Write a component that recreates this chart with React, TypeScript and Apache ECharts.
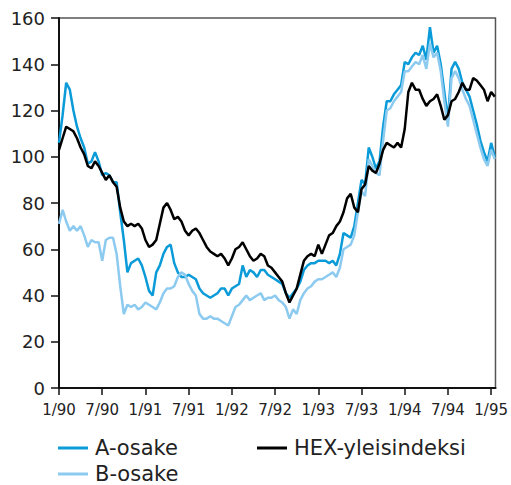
import React, { useEffect, useRef } from "react";
import * as echarts from "echarts";

// months since January 1990, half-month steps
const months: number[] = Array.from({ length: 122 }, (_, i) => i * 0.5);

const tickMonths = [0, 6, 12, 18, 24, 30, 36, 42, 48, 54, 60];
const tickLabels = ["1/90", "7/90", "1/91", "7/91", "1/92", "7/92", "1/93", "7/93", "1/94", "7/94", "1/95"];

const aOsake = [
  106, 118, 132, 129, 120, 113, 108, 104, 97, 98,
  102, 98, 92, 93, 92, 89, 89, 76, 64, 50,
  54, 55, 56, 53, 48, 42, 40, 50, 53, 58,
  61, 62, 54, 50, 48, 48, 49, 48, 47, 43,
  41, 40, 39, 40, 41, 43, 43, 40, 43, 44,
  45, 53, 48, 51, 50, 48, 51, 51, 49, 48,
  47, 46, 45, 41, 39, 41, 43, 46, 51, 53,
  54, 54, 55, 55, 55, 54, 55, 53, 58, 67,
  66, 65, 70, 80, 90, 88, 104, 100, 95, 98,
  113, 124, 124, 127, 129, 131, 141, 140, 143, 145,
  144, 148, 142, 156, 145, 148, 140, 128, 116, 138,
  141, 138, 132, 129, 126, 120, 114, 107, 102, 98,
  106, 100,
];

const bOsake = [
  71, 77, 72, 68, 70, 68, 70, 66, 61, 64,
  63, 63, 55, 64, 65, 65, 58, 44, 32, 36,
  35, 36, 34, 35, 37, 36, 35, 34, 37, 41,
  43, 43, 44, 48, 50, 49, 45, 42, 40, 32,
  30, 30, 31, 30, 30, 29, 28, 27, 31, 35,
  36, 38, 40, 38, 39, 40, 41, 38, 39, 39,
  40, 38, 37, 35, 30, 34, 32, 38, 41, 43,
  44, 46, 47, 47, 48, 49, 50, 48, 52, 60,
  61, 62, 66, 76, 85, 83, 99, 96, 93, 92,
  107, 120, 121, 124, 126, 128, 137, 137, 139, 141,
  140, 144, 138, 149, 143, 145, 137, 124, 113, 134,
  137, 134, 129, 125, 122, 116, 110, 104, 99, 96,
  103, 99,
];

const hex = [
  103, 108, 113, 112, 111, 108, 104, 101, 96, 95,
  98, 96, 93, 90, 92, 89, 87, 78, 72, 70,
  71, 70, 71, 69, 64, 61, 62, 64, 71, 78,
  80, 77, 73, 74, 72, 68, 66, 68, 69, 67,
  64, 61, 59, 58, 57, 58, 56, 53, 56, 60,
  61, 63, 60, 57, 55, 56, 58, 57, 53, 52,
  50, 48, 46, 41, 37, 40, 43, 49, 55, 57,
  58, 57, 62, 58, 62, 66, 67, 70, 72, 76,
  82, 84, 78, 76, 86, 88, 96, 94, 93, 97,
  103, 106, 105, 104, 106, 104, 112, 128, 132, 129,
  129, 125, 122, 124, 125, 127, 122, 116, 118, 124,
  125, 128, 132, 129, 129, 134, 133, 131, 129, 124,
  128, 126,
];

const FONT = "DejaVu Sans";

export default function App() {
  const ref = useRef<HTMLDivElement>(null);
  useEffect(() => {
    if (!ref.current) return;
    const chart = echarts.init(ref.current, null, { renderer: "svg" });
    const mk = (vals: number[]) => months.map((m, i) => [m, vals[i]]);
    const legendText = { fontFamily: FONT, fontSize: 21, lineHeight: 24, color: "#222", padding: [0, 0, 0, 2] };
    const legendBase = { icon: "rect", itemWidth: 30, itemHeight: 3, padding: 0, textStyle: legendText };
    chart.setOption({
      animation: false,
      backgroundColor: "#fff",
      grid: {
        left: 59,
        top: 18,
        right: 14,
        bottom: 97,
        show: true,
        borderColor: "#555",
        borderWidth: 1.5,
        backgroundColor: "transparent",
      },
      xAxis: {
        type: "value",
        min: 0,
        max: 60.6,
        interval: 6,
        splitLine: { show: false },
        axisLine: { show: true, onZero: false, lineStyle: { color: "#111", width: 2 } },
        axisTick: {
          show: true,
          length: 7,
          customValues: tickMonths,
          lineStyle: { color: "#111", width: 1.5 },
        },
        axisLabel: {
          customValues: tickMonths,
          margin: 14,
          color: "#222",
          fontFamily: FONT,
          fontSize: 15,
          formatter: (v: number) => {
            const idx = tickMonths.indexOf(Math.round(v));
            return idx >= 0 ? tickLabels[idx] : "";
          },
        },
      },
      yAxis: {
        type: "value",
        min: 0,
        max: 160,
        interval: 20,
        splitLine: { show: false },
        axisLine: { show: true, lineStyle: { color: "#111", width: 2 } },
        axisTick: { show: true, length: 8, lineStyle: { color: "#111", width: 1.5 } },
        axisLabel: { margin: 14, color: "#222", fontFamily: FONT, fontSize: 18 },
      },
      legend: [
        { ...legendBase, data: ["A-osake"], left: 58, top: 436 },
        { ...legendBase, data: ["B-osake"], left: 58, top: 462 },
        { ...legendBase, data: ["HEX-yleisindeksi"], left: 257, top: 436 },
      ],
      series: [
        {
          name: "A-osake",
          type: "line",
          data: mk(aOsake),
          showSymbol: false,
          color: "#0a9bd8",
          lineStyle: { width: 2.5, color: "#0a9bd8" },
        },
        {
          name: "B-osake",
          type: "line",
          data: mk(bOsake),
          showSymbol: false,
          color: "#8ccaf0",
          lineStyle: { width: 2.5, color: "#8ccaf0" },
        },
        {
          name: "HEX-yleisindeksi",
          type: "line",
          data: mk(hex),
          showSymbol: false,
          color: "#000",
          lineStyle: { width: 2.5, color: "#000" },
        },
      ],
    });
    return () => chart.dispose();
  }, []);
  return <div ref={ref} style={{ width: 511, height: 485, position: "absolute", left: 0, top: 0 }} />;
}
